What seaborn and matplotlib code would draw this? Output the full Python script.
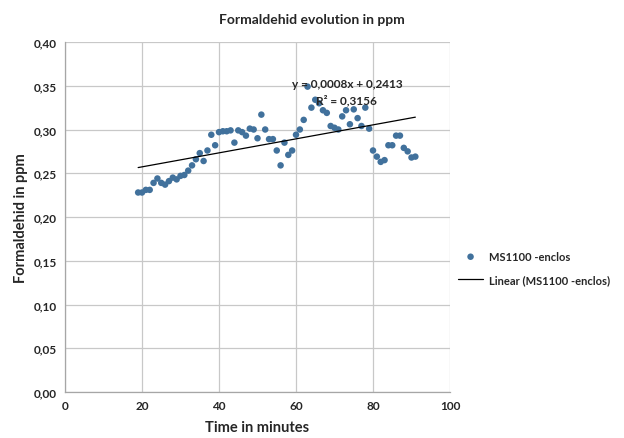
import numpy as np
import pandas as pd
import matplotlib
matplotlib.use("Agg")
import matplotlib.pyplot as plt
import seaborn as sns

# data
minutes = list(range(19, 92))
ppm = [0.228, 0.228, 0.231, 0.231, 0.239, 0.244, 0.239, 0.237, 0.241, 0.245,
       0.243, 0.247, 0.248, 0.253, 0.259, 0.266, 0.273, 0.264, 0.276, 0.294,
       0.282, 0.297, 0.298, 0.298, 0.299, 0.285, 0.299, 0.297, 0.293, 0.301,
       0.300, 0.290, 0.317, 0.300, 0.289, 0.289, 0.276, 0.259, 0.285, 0.271,
       0.276, 0.294, 0.300, 0.311, 0.349, 0.325, 0.334, 0.330, 0.322, 0.319,
       0.304, 0.302, 0.300, 0.315, 0.322, 0.306, 0.323, 0.313, 0.304, 0.325,
       0.301, 0.276, 0.269, 0.263, 0.265, 0.282, 0.282, 0.293, 0.293, 0.279,
       0.275, 0.268, 0.269]
slope = 0.0008
intercept = 0.2413
equation = "y = 0,0008x + 0,2413"
r2_text = "R² = 0,3156"
series_name = "MS1100 -enclos"
trend_name = "Linear (MS1100 -enclos)"
x_ticks = [0, 20, 40, 60, 80, 100]
y_ticks = [0.0, 0.05, 0.10, 0.15, 0.20, 0.25, 0.30, 0.35, 0.40]

sns.set_style("white")
plt.rcParams['font.family'] = ['Lato', 'DejaVu Sans']

df = pd.DataFrame({'minutes': minutes, 'ppm': ppm})
trend = pd.DataFrame({'minutes': [min(minutes), max(minutes)]})
trend['ppm'] = intercept + slope * trend['minutes']

fig = plt.figure(figsize=(6.24, 4.39), dpi=100)
ax = fig.add_axes([65 / 624, 46 / 439, 385 / 624, 350 / 439])

sns.scatterplot(data=df, x='minutes', y='ppm', ax=ax, color='#41719c',
                s=22, edgecolor='none', label=series_name, zorder=3)
sns.lineplot(data=trend, x='minutes', y='ppm', ax=ax, color='black',
             linewidth=0.9, label=trend_name, zorder=4)

ax.set_xlim(0, 100)
ax.set_ylim(0, 0.40)
ax.set_xticks(x_ticks)
ax.set_yticks(y_ticks)
ax.set_yticklabels([f"{v:.2f}".replace('.', ',') for v in y_ticks])
ax.tick_params(length=0, labelsize=8.5, pad=6)
for lab in ax.get_xticklabels() + ax.get_yticklabels():
    lab.set_fontweight('bold')

ax.grid(True, color='#c8c8c8', linewidth=0.9)
ax.set_axisbelow(True)
for side in ['top', 'right']:
    ax.spines[side].set_visible(False)
for side in ['left', 'bottom']:
    ax.spines[side].set_color('#a6a6a6')
    ax.spines[side].set_linewidth(0.9)

ax.set_xlabel('Time in minutes', fontsize=10.5, fontweight='bold', labelpad=6)
ax.set_ylabel('Formaldehid in ppm', fontsize=10.5, fontweight='bold', labelpad=4)
fig.text(0.5, 1 - 20 / 439, 'Formaldehid evolution in ppm', ha='center',
         va='center', fontsize=10, fontweight='bold')

ax.text(73.2, 0.352, equation, ha='center', va='center', fontsize=8.5, fontweight='bold')
ax.text(73.2, 0.334, r2_text, ha='center', va='center', fontsize=8.5, fontweight='bold')

leg = ax.legend(loc='center left', bbox_to_anchor=(1.0, 0.355), frameon=False,
                fontsize=8, handlelength=2.3, handletextpad=0.5,
                labelspacing=1.1, borderpad=0.2)
for t in leg.get_texts():
    t.set_fontweight('bold')

fig.savefig('out.png', dpi=100)
